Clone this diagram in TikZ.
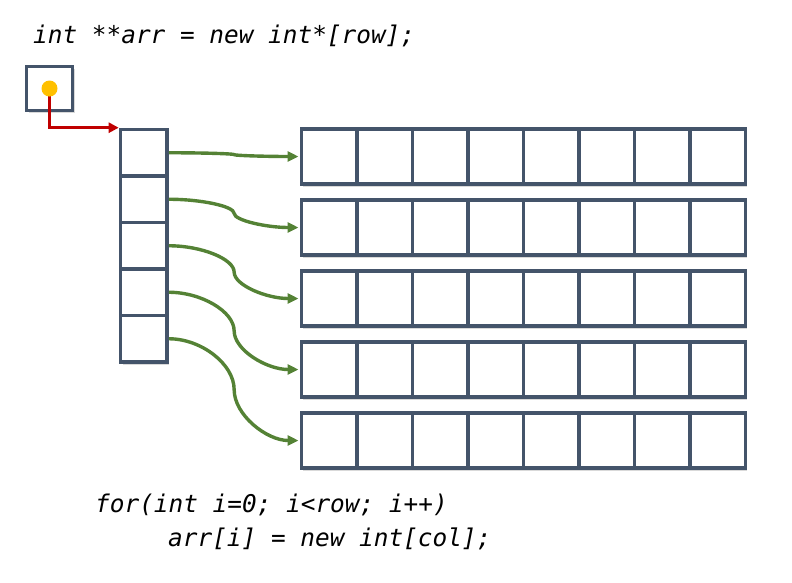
\documentclass[tikz,border=0pt]{standalone}
\usepackage{fontspec}
\setmonofont{DejaVu Sans Mono}
\usepackage{xcolor}
\usepackage{tikz}
\usetikzlibrary{arrows.meta,calc,shadows}
\definecolor{boxedge}{HTML}{44546A}
\definecolor{linkgreen}{HTML}{548235}
\definecolor{ptrred}{HTML}{C00000}
\definecolor{dotyellow}{HTML}{FFC000}

\begin{document}
\begin{tikzpicture}[x=1pt, y=-1pt,
  cell/.style={draw=boxedge, line width=3.6pt, fill=white, inner sep=0pt, minimum width=55.5pt, minimum height=55pt, drop shadow={opacity=0.3, shadow xshift=2pt, shadow yshift=-2.5pt}},
  slot/.style={cell, minimum width=46.5pt, minimum height=46.5pt},
  code/.style={font=\fontsize{24.4}{28}\selectfont\ttfamily\itshape, inner sep=0pt, anchor=base west},
  link/.style={-{Triangle[length=11pt,width=10pt]}, color=linkgreen, line width=3.4pt, shorten >=1pt},
  ptr/.style={-{Triangle[length=10pt,width=10pt]}, color=ptrred, line width=3.4pt}
]
\useasboundingbox (0,0) rectangle (792,582);

\node[code] (decl) at (33,43.5) {int **arr = new int*[row];};
\node[code] (loop) at (95,512) {for(int i=0; i<row; i++)};
\node[code] (alloc) at (168,546) {arr[i] = new int[col];};

% pointer column and the rows it points to
\foreach \i in {1,...,5}
  \node[slot] (c\i) at (143.75, {152.75+46.5*(\i-1)}) {};
\foreach \r in {1,...,5}
  \foreach \c in {1,...,8}
    \node[cell] (r\r-\c) at ({329.05+55.5*(\c-1)}, {156.5+71*(\r-1)}) {};

\foreach \i in {1,...,5} {
  \coordinate (m\i) at ($(c\i.east)!0.5!(r\i-1.west)$);
  \coordinate (h\i) at ($(c\i.east)!0.5!(m\i)$);
  \coordinate (k\i) at ($(m\i)!0.5!(r\i-1.west)$);
  \draw[link] (c\i.east) .. controls (h\i |- c\i.east) and (m\i |- h\i) .. (m\i)
    .. controls (m\i |- k\i) and (k\i |- r\i-1.west) .. (r\i-1.west);
}

% the double pointer
\node[slot, minimum width=46pt, minimum height=44pt] (head) at (49.5,88.5) {};
\draw[ptr] (head.center) |- (c1.north west);
\node[circle, fill=dotyellow, inner sep=0pt, minimum size=16pt] (dot) at (head.center) {};
\end{tikzpicture}
\end{document}
